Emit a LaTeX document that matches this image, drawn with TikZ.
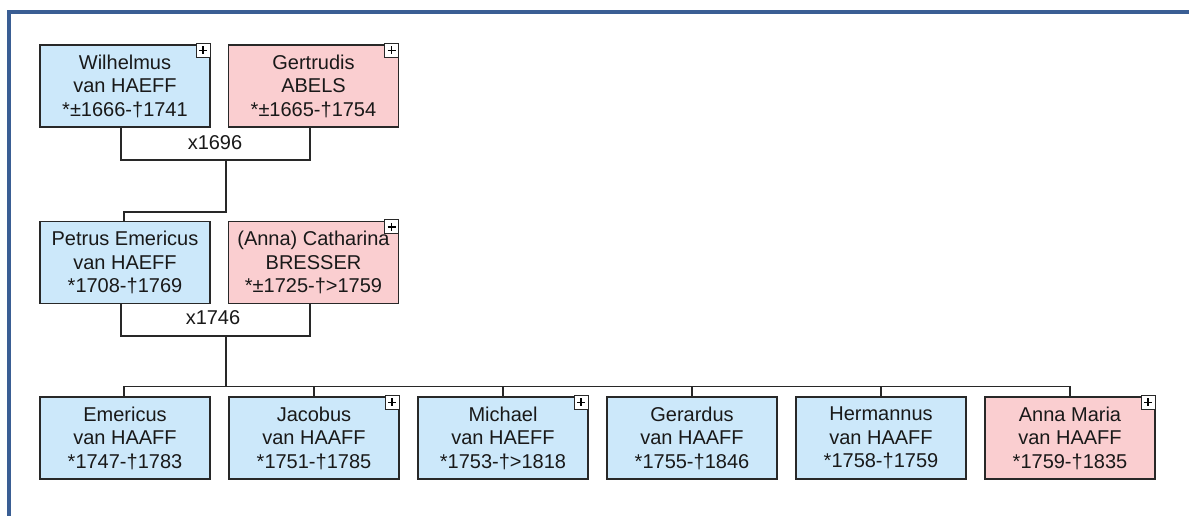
\documentclass[tikz,border=0pt]{standalone}
\usepackage{fontspec}
\setmainfont{Liberation Sans}
\definecolor{maleblue}{RGB}{204,232,250}
\definecolor{femalepink}{RGB}{250,206,208}
\definecolor{framecol}{RGB}{58,94,148}
\definecolor{edgecol}{RGB}{40,40,40}
\begin{document}
\begin{tikzpicture}[x=1pt,y=-1pt,
  person/.style={draw=edgecol, line width=1.4pt, minimum width=170pt, minimum height=82pt,
    inner sep=0pt, align=center, font=\fontsize{20}{23.5}\selectfont, text=black!90},
  male/.style={person, fill=maleblue},
  female/.style={person, fill=femalepink},
  plusbox/.style={draw=edgecol, fill=white, line width=1.1pt, minimum size=14pt, inner sep=0pt,
    anchor=north east, yshift=1.5pt,
    path picture={\draw[line width=1.4pt, black]
      ([yshift=-3pt]path picture bounding box.north) -- ([yshift=3pt]path picture bounding box.south)
      ([xshift=3pt]path picture bounding box.west) -- ([xshift=-3pt]path picture bounding box.east);}},
  link/.style={draw=edgecol, line width=1.5pt},
  marr/.style={font=\fontsize{20}{23}\selectfont, text=black!90, inner sep=0pt}
]
\useasboundingbox (0,0) rectangle (1189,516);
\fill[white] (0,0) rectangle (1189,516);
\draw[framecol, line width=4pt] (9,516) -- (9,12) -- (1189,12);

% generation 1
\node[male]   (w) at (125,86)    {Wilhelmus\\van HAEFF\\*±1666-†1741};
\node[female] (g) at (313.5,86)  {Gertrudis\\ABELS\\*±1665-†1754};
% generation 2
\node[male]   (p) at (125,262.5)   {Petrus Emericus\\van HAEFF\\*1708-†1769};
\node[female] (c) at (313.5,262.5) {(Anna) Catharina\\BRESSER\\*±1725-†>1759};
% generation 3
\node[male]   (k1) at (125,438)   {Emericus\\van HAAFF\\*1747-†1783};
\node[male]   (k2) at (314,438)   {Jacobus\\van HAAFF\\*1751-†1785};
\node[male]   (k3) at (503,438)   {Michael\\van HAEFF\\*1753-†>1818};
\node[male]   (k4) at (692,438)   {Gerardus\\van HAAFF\\*1755-†1846};
\node[male]   (k5) at (881,438)   {Hermannus\\van HAAFF\\*1758-†1759};
\node[female] (k6) at (1070,438)  {Anna Maria\\van HAAFF\\*1759-†1835};

% expand markers
\node[plusbox] (wp)  at (w.north east)  {};
\node[plusbox] (gp)  at (g.north east)  {};
\node[plusbox] (cp)  at (c.north east)  {};
\node[plusbox] (k2p) at (k2.north east) {};
\node[plusbox] (k3p) at (k3.north east) {};
\node[plusbox] (k6p) at (k6.north east) {};

% marriage 1
\node[marr] (m1) at (215,143) {x1696};
\coordinate (d1) at (226,160);
\coordinate (e1) at (226,212);
\draw[link] ([xshift=-4pt]w.south) |- (d1) -| ([xshift=-3.5pt]g.south);
\draw[link] (d1) -- (e1) -| ([xshift=-1pt]p.north);

% marriage 2
\node[marr] (m2) at (213,318) {x1746};
\coordinate (d2) at (226,336);
\coordinate (bus) at (226,387);
\draw[link] ([xshift=-4pt]p.south) |- (d2) -| ([xshift=-3.5pt]c.south);
\draw[link] (d2) -- (bus);

% children bus
\draw[link] ([xshift=-1pt]k1.north) -- ++(0,-10) -| (k6.north);
\draw[link] (k2.north) -- ++(0,-10);
\draw[link] (k3.north) -- ++(0,-10);
\draw[link] (k4.north) -- ++(0,-10);
\draw[link] (k5.north) -- ++(0,-10);
\end{tikzpicture}
\end{document}
